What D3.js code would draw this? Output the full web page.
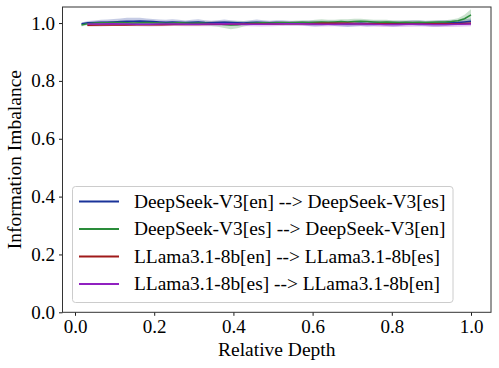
<!DOCTYPE html>
<html>
<head>
<meta charset="utf-8">
<script src="https://cdn.jsdelivr.net/npm/d3@7"></script>
<style>
  html, body { margin: 0; padding: 0; background: #fff; }
  svg { display: block; }
  text { font-family: "Liberation Serif", "DejaVu Serif", serif; fill: #000; }
</style>
</head>
<body>
<svg id="chart" width="499" height="368"></svg>
<script>
// ---------------- data ----------------
const seriesNames = [
  "DeepSeek-V3[en] --> DeepSeek-V3[es]",
  "DeepSeek-V3[es] --> DeepSeek-V3[en]",
  "LLama3.1-8b[en] --> LLama3.1-8b[es]",
  "LLama3.1-8b[es] --> LLama3.1-8b[en]"
];
const seriesColors = ["#1a3399", "#2a8c3a", "#a01a1a", "#9020c0"];

const deepseekLayers = 61;
const llamaLayers = 32;

const blueMean = [
  0.998,1.001,1.002,1.003,1.003,1.004,1.005,1.006,1.006,1.007,
  1.006,1.005,1.004,1.003,1.004,1.003,1.002,1.003,1.004,1.002,
  1.001,1.002,1.003,1.002,1.001,1.000,1.002,1.003,1.002,1.001,
  1.002,1.001,1.000,0.999,1.000,0.999,0.998,0.999,1.000,0.999,
  0.998,0.997,0.998,0.999,0.998,0.999,1.000,0.999,0.998,0.999,
  1.000,1.001,1.000,0.999,0.998,0.999,1.000,1.001,1.002,1.004,
  1.006
];
const blueStd = [
  0.004,0.006,0.007,0.008,0.009,0.010,0.011,0.012,0.012,0.011,
  0.010,0.009,0.008,0.008,0.009,0.008,0.007,0.008,0.009,0.008,
  0.007,0.008,0.009,0.008,0.007,0.007,0.008,0.009,0.008,0.007,
  0.008,0.009,0.008,0.007,0.008,0.009,0.010,0.009,0.008,0.009,
  0.010,0.011,0.010,0.009,0.010,0.009,0.008,0.009,0.010,0.009,
  0.008,0.009,0.010,0.009,0.010,0.011,0.010,0.009,0.008,0.009,
  0.010
];
const greenMean = [
  0.993,0.998,1.000,1.001,1.001,1.002,1.002,1.001,1.000,1.001,
  1.002,1.001,1.000,0.999,1.000,1.001,1.000,0.999,1.000,0.999,
  0.998,0.997,0.995,0.993,0.994,0.997,0.999,1.000,1.001,1.000,
  1.001,1.002,1.001,1.002,1.003,1.002,1.003,1.004,1.003,1.004,
  1.005,1.004,1.005,1.006,1.005,1.004,1.003,1.004,1.003,1.002,
  1.003,1.002,1.003,1.002,1.003,1.004,1.004,1.005,1.008,1.015,
  1.028
];
const greenStd = [
  0.005,0.005,0.004,0.004,0.005,0.005,0.004,0.004,0.005,0.004,
  0.004,0.005,0.004,0.004,0.005,0.004,0.005,0.006,0.006,0.007,
  0.008,0.010,0.012,0.014,0.012,0.009,0.007,0.006,0.005,0.005,
  0.006,0.005,0.006,0.007,0.006,0.007,0.008,0.009,0.008,0.007,
  0.008,0.009,0.010,0.009,0.008,0.007,0.008,0.007,0.006,0.007,
  0.006,0.007,0.006,0.005,0.006,0.005,0.006,0.007,0.009,0.014,
  0.020
];
const redMean = [
  0.992,0.993,0.993,0.993,0.994,0.994,0.994,0.995,0.995,0.995,
  0.996,0.996,0.996,0.997,0.997,0.997,0.998,0.998,0.998,0.999,
  0.999,0.999,0.998,0.998,0.998,0.997,0.997,0.997,0.998,0.998,
  0.998,0.999
];
const redStd = [
  0.004,0.004,0.003,0.003,0.003,0.003,0.003,0.003,0.003,0.003,
  0.003,0.003,0.003,0.003,0.003,0.003,0.003,0.003,0.003,0.003,
  0.003,0.003,0.003,0.003,0.003,0.003,0.003,0.003,0.003,0.003,
  0.003,0.004
];
const purpleMean = [
  0.997,0.997,0.998,0.997,0.996,0.996,0.997,0.997,0.996,0.996,
  0.997,0.998,0.997,0.996,0.996,0.997,0.998,0.998,0.997,0.996,
  0.996,0.997,0.997,0.996,0.995,0.995,0.996,0.996,0.995,0.995,
  0.996,0.997
];
const purpleStd = [
  0.007,0.008,0.008,0.007,0.007,0.008,0.008,0.007,0.007,0.007,
  0.008,0.008,0.007,0.007,0.008,0.008,0.007,0.007,0.008,0.008,
  0.007,0.008,0.008,0.008,0.009,0.009,0.009,0.008,0.009,0.009,
  0.009,0.008
];

const xTicks = [0.0, 0.2, 0.4, 0.6, 0.8, 1.0];
const yTicks = [0.0, 0.2, 0.4, 0.6, 0.8, 1.0];

// ---------------- layout ----------------
const svg = d3.select("#chart");
const plot = { left: 62.5, right: 491, top: 7, bottom: 312.3 };

const x = d3.scaleLinear().domain([-0.0316, 1.0505]).range([plot.left, plot.right]);
const y = d3.scaleLinear().domain([0, 1.0555]).range([plot.bottom, plot.top]);

const seriesDefs = [
  { n: deepseekLayers, mean: blueMean, std: blueStd },
  { n: deepseekLayers, mean: greenMean, std: greenStd },
  { n: llamaLayers, mean: redMean, std: redStd },
  { n: llamaLayers, mean: purpleMean, std: purpleStd }
];

svg.append("defs").append("clipPath").attr("id", "clip")
  .append("rect").attr("x", plot.left).attr("y", plot.top)
  .attr("width", plot.right - plot.left).attr("height", plot.bottom - plot.top);

const g = svg.append("g").attr("clip-path", "url(#clip)");

seriesDefs.forEach((s, k) => {
  const pts = s.mean.map((m, i) => ({ x: (i + 1) / s.n, m: m, sd: s.std[i] }));
  const area = d3.area().x(d => x(d.x)).y0(d => y(d.m - d.sd)).y1(d => y(d.m + d.sd));
  g.append("path").datum(pts).attr("d", area)
    .attr("fill", seriesColors[k]).attr("fill-opacity", 0.25).attr("stroke", "none");
});
seriesDefs.forEach((s, k) => {
  const pts = s.mean.map((m, i) => ({ x: (i + 1) / s.n, m: m }));
  const line = d3.line().x(d => x(d.x)).y(d => y(d.m));
  g.append("path").datum(pts).attr("d", line)
    .attr("fill", "none").attr("stroke", seriesColors[k]).attr("stroke-width", 1.5);
});

// axes
const xAxis = d3.axisBottom(x).tickValues(xTicks).tickFormat(d3.format(".1f")).tickSizeOuter(0).tickSize(3.5).tickPadding(4);
const yAxis = d3.axisLeft(y).tickValues(yTicks).tickFormat(d3.format(".1f")).tickSizeOuter(0).tickSize(3.5).tickPadding(4);

const gx = svg.append("g").attr("transform", `translate(0,${plot.bottom})`).call(xAxis);
const gy = svg.append("g").attr("transform", `translate(${plot.left},0)`).call(yAxis);
[gx, gy].forEach(a => {
  a.select(".domain").remove();
  a.selectAll(".tick line").attr("stroke", "#000").attr("stroke-width", 0.9);
  a.selectAll(".tick text").style("font-family", '"Liberation Serif", serif').style("font-size", "19px").attr("fill", "#000");
});

// spines
svg.append("rect").attr("x", plot.left).attr("y", plot.top)
  .attr("width", plot.right - plot.left).attr("height", plot.bottom - plot.top)
  .attr("fill", "none").attr("stroke", "#333").attr("stroke-width", 1);

// axis labels
svg.append("text").attr("x", (plot.left + plot.right) / 2).attr("y", 356)
  .attr("text-anchor", "middle").style("font-size", "19.5px").text("Relative Depth");
svg.append("text").attr("transform", `translate(21,${(plot.top + plot.bottom) / 2}) rotate(-90)`)
  .attr("text-anchor", "middle").style("font-size", "19.5px").text("Information Imbalance");

// legend
const leg = svg.append("g");
leg.append("rect").attr("x", 72.5).attr("y", 186.5).attr("width", 380.5).attr("height", 116)
  .attr("rx", 3).attr("ry", 3)
  .attr("fill", "#fff").attr("fill-opacity", 0.8).attr("stroke", "#cccccc").attr("stroke-width", 1);
const legY = [201.5, 229, 256.5, 284];
seriesNames.forEach((name, k) => {
  leg.append("line").attr("x1", 79).attr("x2", 119).attr("y1", legY[k]).attr("y2", legY[k])
    .attr("stroke", seriesColors[k]).attr("stroke-width", 1.8);
  leg.append("text").attr("x", 134).attr("y", legY[k]).attr("dy", "0.33em")
    .style("font-size", "19.4px").text(name);
});
</script>
</body>
</html>
